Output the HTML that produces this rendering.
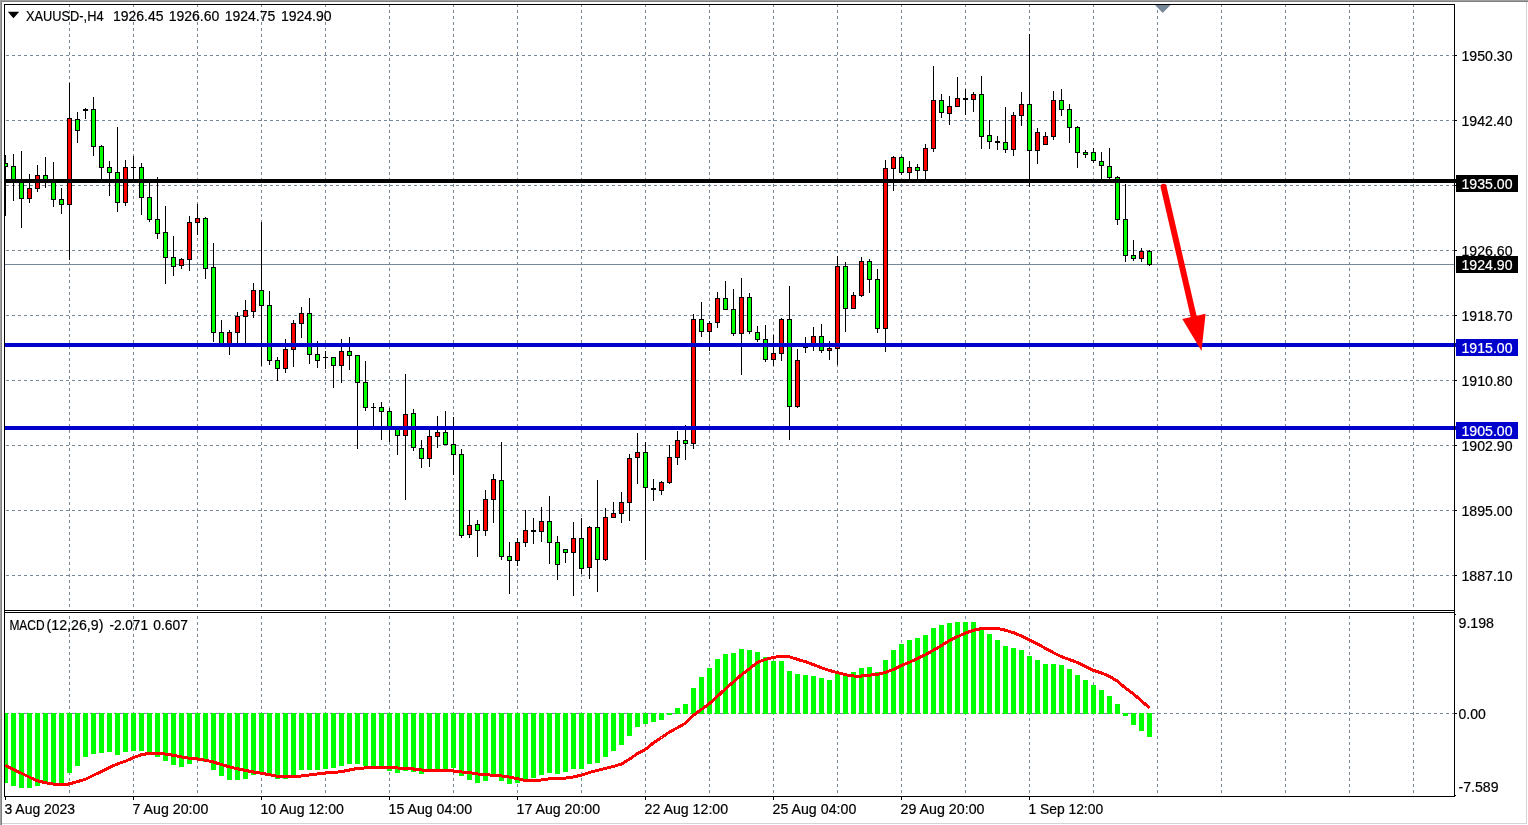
<!DOCTYPE html>
<html lang="en"><head><meta charset="utf-8"><title>XAUUSD-,H4</title>
<style>html,body{margin:0;padding:0;background:#fff;overflow:hidden}svg{display:block}text{font-family:"Liberation Sans",Arial,sans-serif;font-size:14px;fill:#000;stroke:#000;stroke-width:0.2px}.g line{stroke:#778899;stroke-width:1;stroke-dasharray:3 3}.w{fill:#fff}</style></head><body>
<svg width="1528" height="825" viewBox="0 0 1528 825">
<rect width="1528" height="825" fill="#fff"/>
<g shape-rendering="crispEdges">
<rect x="0" y="0" width="1528" height="2" fill="#a0a0a0"/>
<rect x="0" y="1" width="1528" height="1" fill="#808080"/>
<rect x="0" y="0" width="1" height="825" fill="#a0a0a0"/>
<rect x="1" y="1" width="1" height="824" fill="#808080"/>
<rect x="1526" y="2" width="1" height="822" fill="#d4d4d4"/>
<rect x="2" y="823" width="1525" height="1" fill="#d4d4d4"/>
<g class="g">
<line x1="69.5" y1="4" x2="69.5" y2="796"/>
<line x1="133.5" y1="4" x2="133.5" y2="796"/>
<line x1="197.5" y1="4" x2="197.5" y2="796"/>
<line x1="261.5" y1="4" x2="261.5" y2="796"/>
<line x1="325.5" y1="4" x2="325.5" y2="796"/>
<line x1="389.5" y1="4" x2="389.5" y2="796"/>
<line x1="453.5" y1="4" x2="453.5" y2="796"/>
<line x1="517.5" y1="4" x2="517.5" y2="796"/>
<line x1="581.5" y1="4" x2="581.5" y2="796"/>
<line x1="645.5" y1="4" x2="645.5" y2="796"/>
<line x1="709.5" y1="4" x2="709.5" y2="796"/>
<line x1="773.5" y1="4" x2="773.5" y2="796"/>
<line x1="837.5" y1="4" x2="837.5" y2="796"/>
<line x1="901.5" y1="4" x2="901.5" y2="796"/>
<line x1="965.5" y1="4" x2="965.5" y2="796"/>
<line x1="1029.5" y1="4" x2="1029.5" y2="796"/>
<line x1="1093.5" y1="4" x2="1093.5" y2="796"/>
<line x1="1157.5" y1="4" x2="1157.5" y2="796"/>
<line x1="1221.5" y1="4" x2="1221.5" y2="796"/>
<line x1="1285.5" y1="4" x2="1285.5" y2="796"/>
<line x1="1349.5" y1="4" x2="1349.5" y2="796"/>
<line x1="1413.5" y1="4" x2="1413.5" y2="796"/>
<line x1="6" y1="55.5" x2="1454" y2="55.5"/>
<line x1="6" y1="120.5" x2="1454" y2="120.5"/>
<line x1="6" y1="185.5" x2="1454" y2="185.5"/>
<line x1="6" y1="250.5" x2="1454" y2="250.5"/>
<line x1="6" y1="315.5" x2="1454" y2="315.5"/>
<line x1="6" y1="380.5" x2="1454" y2="380.5"/>
<line x1="6" y1="445.5" x2="1454" y2="445.5"/>
<line x1="6" y1="510.5" x2="1454" y2="510.5"/>
<line x1="6" y1="575.5" x2="1454" y2="575.5"/>
<line x1="6" y1="713.5" x2="1454" y2="713.5"/>
</g>
<rect x="5" y="264" width="1450" height="1" fill="#778899"/>
<rect x="5" y="155" width="1" height="61" fill="#000"/>
<rect x="3" y="163" width="5" height="4" fill="#000"/>
<rect x="4" y="164" width="3" height="2" fill="#00ff00"/>
<rect x="13" y="154" width="1" height="47" fill="#000"/>
<rect x="11" y="166" width="5" height="16" fill="#000"/>
<rect x="12" y="167" width="3" height="14" fill="#00ff00"/>
<rect x="21" y="151" width="1" height="77" fill="#000"/>
<rect x="19" y="179" width="5" height="20" fill="#000"/>
<rect x="20" y="180" width="3" height="18" fill="#00ff00"/>
<rect x="29" y="174" width="1" height="29" fill="#000"/>
<rect x="27" y="188" width="5" height="11" fill="#000"/>
<rect x="28" y="189" width="3" height="9" fill="#ff0000"/>
<rect x="37" y="165" width="1" height="27" fill="#000"/>
<rect x="35" y="175" width="5" height="14" fill="#000"/>
<rect x="36" y="176" width="3" height="12" fill="#ff0000"/>
<rect x="45" y="157" width="1" height="31" fill="#000"/>
<rect x="43" y="175" width="5" height="7" fill="#000"/>
<rect x="44" y="176" width="3" height="5" fill="#00ff00"/>
<rect x="53" y="162" width="1" height="45" fill="#000"/>
<rect x="51" y="180" width="5" height="20" fill="#000"/>
<rect x="52" y="181" width="3" height="18" fill="#00ff00"/>
<rect x="61" y="188" width="1" height="26" fill="#000"/>
<rect x="59" y="199" width="5" height="6" fill="#000"/>
<rect x="60" y="200" width="3" height="4" fill="#00ff00"/>
<rect x="69" y="83" width="1" height="177" fill="#000"/>
<rect x="67" y="118" width="5" height="87" fill="#000"/>
<rect x="68" y="119" width="3" height="85" fill="#ff0000"/>
<rect x="77" y="112" width="1" height="31" fill="#000"/>
<rect x="75" y="119" width="5" height="12" fill="#000"/>
<rect x="76" y="120" width="3" height="10" fill="#00ff00"/>
<rect x="85" y="108" width="1" height="11" fill="#000"/>
<rect x="83" y="109" width="5" height="2" fill="#000"/>
<rect x="93" y="97" width="1" height="59" fill="#000"/>
<rect x="91" y="109" width="5" height="38" fill="#000"/>
<rect x="92" y="110" width="3" height="36" fill="#00ff00"/>
<rect x="101" y="145" width="1" height="35" fill="#000"/>
<rect x="99" y="146" width="5" height="22" fill="#000"/>
<rect x="100" y="147" width="3" height="20" fill="#00ff00"/>
<rect x="109" y="161" width="1" height="35" fill="#000"/>
<rect x="107" y="167" width="5" height="6" fill="#000"/>
<rect x="108" y="168" width="3" height="4" fill="#00ff00"/>
<rect x="117" y="127" width="1" height="85" fill="#000"/>
<rect x="115" y="172" width="5" height="31" fill="#000"/>
<rect x="116" y="173" width="3" height="29" fill="#00ff00"/>
<rect x="125" y="160" width="1" height="46" fill="#000"/>
<rect x="123" y="167" width="5" height="36" fill="#000"/>
<rect x="124" y="168" width="3" height="34" fill="#ff0000"/>
<rect x="133" y="156" width="1" height="24" fill="#000"/>
<rect x="131" y="167" width="5" height="1" fill="#000"/>
<rect x="141" y="163" width="1" height="52" fill="#000"/>
<rect x="139" y="167" width="5" height="31" fill="#000"/>
<rect x="140" y="168" width="3" height="29" fill="#00ff00"/>
<rect x="149" y="182" width="1" height="40" fill="#000"/>
<rect x="147" y="197" width="5" height="23" fill="#000"/>
<rect x="148" y="198" width="3" height="21" fill="#00ff00"/>
<rect x="157" y="177" width="1" height="62" fill="#000"/>
<rect x="155" y="219" width="5" height="15" fill="#000"/>
<rect x="156" y="220" width="3" height="13" fill="#00ff00"/>
<rect x="165" y="206" width="1" height="78" fill="#000"/>
<rect x="163" y="232" width="5" height="26" fill="#000"/>
<rect x="164" y="233" width="3" height="24" fill="#00ff00"/>
<rect x="173" y="236" width="1" height="40" fill="#000"/>
<rect x="171" y="257" width="5" height="10" fill="#000"/>
<rect x="172" y="258" width="3" height="8" fill="#00ff00"/>
<rect x="181" y="258" width="1" height="11" fill="#000"/>
<rect x="179" y="259" width="5" height="7" fill="#000"/>
<rect x="180" y="260" width="3" height="5" fill="#ff0000"/>
<rect x="189" y="216" width="1" height="55" fill="#000"/>
<rect x="187" y="222" width="5" height="38" fill="#000"/>
<rect x="188" y="223" width="3" height="36" fill="#ff0000"/>
<rect x="197" y="204" width="1" height="31" fill="#000"/>
<rect x="195" y="218" width="5" height="5" fill="#000"/>
<rect x="196" y="219" width="3" height="3" fill="#ff0000"/>
<rect x="205" y="217" width="1" height="62" fill="#000"/>
<rect x="203" y="218" width="5" height="51" fill="#000"/>
<rect x="204" y="219" width="3" height="49" fill="#00ff00"/>
<rect x="213" y="243" width="1" height="99" fill="#000"/>
<rect x="211" y="267" width="5" height="66" fill="#000"/>
<rect x="212" y="268" width="3" height="64" fill="#00ff00"/>
<rect x="221" y="320" width="1" height="25" fill="#000"/>
<rect x="219" y="332" width="5" height="13" fill="#000"/>
<rect x="220" y="333" width="3" height="11" fill="#00ff00"/>
<rect x="229" y="330" width="1" height="25" fill="#000"/>
<rect x="227" y="332" width="5" height="14" fill="#000"/>
<rect x="228" y="333" width="3" height="12" fill="#ff0000"/>
<rect x="237" y="312" width="1" height="32" fill="#000"/>
<rect x="235" y="316" width="5" height="17" fill="#000"/>
<rect x="236" y="317" width="3" height="15" fill="#ff0000"/>
<rect x="245" y="300" width="1" height="44" fill="#000"/>
<rect x="243" y="310" width="5" height="7" fill="#000"/>
<rect x="244" y="311" width="3" height="5" fill="#ff0000"/>
<rect x="253" y="283" width="1" height="35" fill="#000"/>
<rect x="251" y="290" width="5" height="22" fill="#000"/>
<rect x="252" y="291" width="3" height="20" fill="#ff0000"/>
<rect x="261" y="222" width="1" height="144" fill="#000"/>
<rect x="259" y="290" width="5" height="16" fill="#000"/>
<rect x="260" y="291" width="3" height="14" fill="#00ff00"/>
<rect x="269" y="291" width="1" height="74" fill="#000"/>
<rect x="267" y="305" width="5" height="56" fill="#000"/>
<rect x="268" y="306" width="3" height="54" fill="#00ff00"/>
<rect x="277" y="357" width="1" height="24" fill="#000"/>
<rect x="275" y="360" width="5" height="9" fill="#000"/>
<rect x="276" y="361" width="3" height="7" fill="#00ff00"/>
<rect x="285" y="339" width="1" height="34" fill="#000"/>
<rect x="283" y="349" width="5" height="20" fill="#000"/>
<rect x="284" y="350" width="3" height="18" fill="#ff0000"/>
<rect x="293" y="320" width="1" height="47" fill="#000"/>
<rect x="291" y="323" width="5" height="27" fill="#000"/>
<rect x="292" y="324" width="3" height="25" fill="#ff0000"/>
<rect x="301" y="307" width="1" height="31" fill="#000"/>
<rect x="299" y="313" width="5" height="11" fill="#000"/>
<rect x="300" y="314" width="3" height="9" fill="#ff0000"/>
<rect x="309" y="298" width="1" height="66" fill="#000"/>
<rect x="307" y="313" width="5" height="42" fill="#000"/>
<rect x="308" y="314" width="3" height="40" fill="#00ff00"/>
<rect x="317" y="341" width="1" height="27" fill="#000"/>
<rect x="315" y="354" width="5" height="7" fill="#000"/>
<rect x="316" y="355" width="3" height="5" fill="#00ff00"/>
<rect x="325" y="351" width="1" height="18" fill="#000"/>
<rect x="323" y="357" width="5" height="1" fill="#000"/>
<rect x="333" y="357" width="1" height="31" fill="#000"/>
<rect x="331" y="357" width="5" height="9" fill="#000"/>
<rect x="332" y="358" width="3" height="7" fill="#00ff00"/>
<rect x="341" y="339" width="1" height="44" fill="#000"/>
<rect x="339" y="351" width="5" height="15" fill="#000"/>
<rect x="340" y="352" width="3" height="13" fill="#ff0000"/>
<rect x="349" y="337" width="1" height="33" fill="#000"/>
<rect x="347" y="351" width="5" height="5" fill="#000"/>
<rect x="348" y="352" width="3" height="3" fill="#00ff00"/>
<rect x="357" y="355" width="1" height="94" fill="#000"/>
<rect x="355" y="355" width="5" height="28" fill="#000"/>
<rect x="356" y="356" width="3" height="26" fill="#00ff00"/>
<rect x="365" y="361" width="1" height="50" fill="#000"/>
<rect x="363" y="382" width="5" height="26" fill="#000"/>
<rect x="364" y="383" width="3" height="24" fill="#00ff00"/>
<rect x="373" y="403" width="1" height="25" fill="#000"/>
<rect x="371" y="407" width="5" height="1" fill="#000"/>
<rect x="381" y="402" width="1" height="38" fill="#000"/>
<rect x="379" y="407" width="5" height="5" fill="#000"/>
<rect x="380" y="408" width="3" height="3" fill="#00ff00"/>
<rect x="389" y="408" width="1" height="34" fill="#000"/>
<rect x="387" y="411" width="5" height="17" fill="#000"/>
<rect x="388" y="412" width="3" height="15" fill="#00ff00"/>
<rect x="397" y="427" width="1" height="28" fill="#000"/>
<rect x="395" y="427" width="5" height="9" fill="#000"/>
<rect x="396" y="428" width="3" height="7" fill="#00ff00"/>
<rect x="405" y="374" width="1" height="126" fill="#000"/>
<rect x="403" y="414" width="5" height="22" fill="#000"/>
<rect x="404" y="415" width="3" height="20" fill="#ff0000"/>
<rect x="413" y="409" width="1" height="42" fill="#000"/>
<rect x="411" y="413" width="5" height="35" fill="#000"/>
<rect x="412" y="414" width="3" height="33" fill="#00ff00"/>
<rect x="421" y="440" width="1" height="28" fill="#000"/>
<rect x="419" y="448" width="5" height="11" fill="#000"/>
<rect x="420" y="449" width="3" height="9" fill="#00ff00"/>
<rect x="429" y="428" width="1" height="39" fill="#000"/>
<rect x="427" y="436" width="5" height="23" fill="#000"/>
<rect x="428" y="437" width="3" height="21" fill="#ff0000"/>
<rect x="437" y="416" width="1" height="32" fill="#000"/>
<rect x="435" y="432" width="5" height="5" fill="#000"/>
<rect x="436" y="433" width="3" height="3" fill="#ff0000"/>
<rect x="445" y="411" width="1" height="34" fill="#000"/>
<rect x="443" y="432" width="5" height="13" fill="#000"/>
<rect x="444" y="433" width="3" height="11" fill="#00ff00"/>
<rect x="453" y="417" width="1" height="58" fill="#000"/>
<rect x="451" y="444" width="5" height="11" fill="#000"/>
<rect x="452" y="445" width="3" height="9" fill="#00ff00"/>
<rect x="461" y="449" width="1" height="89" fill="#000"/>
<rect x="459" y="454" width="5" height="82" fill="#000"/>
<rect x="460" y="455" width="3" height="80" fill="#00ff00"/>
<rect x="469" y="510" width="1" height="28" fill="#000"/>
<rect x="467" y="525" width="5" height="10" fill="#000"/>
<rect x="468" y="526" width="3" height="8" fill="#ff0000"/>
<rect x="477" y="520" width="1" height="37" fill="#000"/>
<rect x="475" y="524" width="5" height="7" fill="#000"/>
<rect x="476" y="525" width="3" height="5" fill="#00ff00"/>
<rect x="485" y="490" width="1" height="46" fill="#000"/>
<rect x="483" y="499" width="5" height="32" fill="#000"/>
<rect x="484" y="500" width="3" height="30" fill="#ff0000"/>
<rect x="493" y="474" width="1" height="49" fill="#000"/>
<rect x="491" y="479" width="5" height="21" fill="#000"/>
<rect x="492" y="480" width="3" height="19" fill="#ff0000"/>
<rect x="501" y="442" width="1" height="118" fill="#000"/>
<rect x="499" y="480" width="5" height="77" fill="#000"/>
<rect x="500" y="481" width="3" height="75" fill="#00ff00"/>
<rect x="509" y="542" width="1" height="52" fill="#000"/>
<rect x="507" y="556" width="5" height="5" fill="#000"/>
<rect x="508" y="557" width="3" height="3" fill="#00ff00"/>
<rect x="517" y="538" width="1" height="28" fill="#000"/>
<rect x="515" y="542" width="5" height="19" fill="#000"/>
<rect x="516" y="543" width="3" height="17" fill="#ff0000"/>
<rect x="525" y="510" width="1" height="37" fill="#000"/>
<rect x="523" y="530" width="5" height="13" fill="#000"/>
<rect x="524" y="531" width="3" height="11" fill="#ff0000"/>
<rect x="533" y="518" width="1" height="26" fill="#000"/>
<rect x="531" y="530" width="5" height="2" fill="#000"/>
<rect x="541" y="507" width="1" height="35" fill="#000"/>
<rect x="539" y="521" width="5" height="11" fill="#000"/>
<rect x="540" y="522" width="3" height="9" fill="#ff0000"/>
<rect x="549" y="496" width="1" height="68" fill="#000"/>
<rect x="547" y="521" width="5" height="22" fill="#000"/>
<rect x="548" y="522" width="3" height="20" fill="#00ff00"/>
<rect x="557" y="536" width="1" height="44" fill="#000"/>
<rect x="555" y="542" width="5" height="23" fill="#000"/>
<rect x="556" y="543" width="3" height="21" fill="#00ff00"/>
<rect x="565" y="549" width="1" height="14" fill="#000"/>
<rect x="563" y="549" width="5" height="4" fill="#000"/>
<rect x="564" y="550" width="3" height="2" fill="#00ff00"/>
<rect x="573" y="522" width="1" height="74" fill="#000"/>
<rect x="571" y="538" width="5" height="15" fill="#000"/>
<rect x="572" y="539" width="3" height="13" fill="#ff0000"/>
<rect x="581" y="518" width="1" height="56" fill="#000"/>
<rect x="579" y="538" width="5" height="31" fill="#000"/>
<rect x="580" y="539" width="3" height="29" fill="#00ff00"/>
<rect x="589" y="526" width="1" height="53" fill="#000"/>
<rect x="587" y="527" width="5" height="41" fill="#000"/>
<rect x="588" y="528" width="3" height="39" fill="#ff0000"/>
<rect x="597" y="480" width="1" height="112" fill="#000"/>
<rect x="595" y="527" width="5" height="33" fill="#000"/>
<rect x="596" y="528" width="3" height="31" fill="#00ff00"/>
<rect x="605" y="508" width="1" height="53" fill="#000"/>
<rect x="603" y="517" width="5" height="43" fill="#000"/>
<rect x="604" y="518" width="3" height="41" fill="#ff0000"/>
<rect x="613" y="502" width="1" height="16" fill="#000"/>
<rect x="611" y="513" width="5" height="5" fill="#000"/>
<rect x="612" y="514" width="3" height="3" fill="#ff0000"/>
<rect x="621" y="492" width="1" height="31" fill="#000"/>
<rect x="619" y="502" width="5" height="12" fill="#000"/>
<rect x="620" y="503" width="3" height="10" fill="#ff0000"/>
<rect x="629" y="454" width="1" height="67" fill="#000"/>
<rect x="627" y="458" width="5" height="45" fill="#000"/>
<rect x="628" y="459" width="3" height="43" fill="#ff0000"/>
<rect x="637" y="433" width="1" height="51" fill="#000"/>
<rect x="635" y="452" width="5" height="6" fill="#000"/>
<rect x="636" y="453" width="3" height="4" fill="#ff0000"/>
<rect x="645" y="442" width="1" height="118" fill="#000"/>
<rect x="643" y="452" width="5" height="36" fill="#000"/>
<rect x="644" y="453" width="3" height="34" fill="#00ff00"/>
<rect x="653" y="479" width="1" height="22" fill="#000"/>
<rect x="651" y="488" width="5" height="2" fill="#000"/>
<rect x="661" y="481" width="1" height="14" fill="#000"/>
<rect x="659" y="482" width="5" height="9" fill="#000"/>
<rect x="660" y="483" width="3" height="7" fill="#ff0000"/>
<rect x="669" y="445" width="1" height="39" fill="#000"/>
<rect x="667" y="457" width="5" height="26" fill="#000"/>
<rect x="668" y="458" width="3" height="24" fill="#ff0000"/>
<rect x="677" y="431" width="1" height="34" fill="#000"/>
<rect x="675" y="440" width="5" height="18" fill="#000"/>
<rect x="676" y="441" width="3" height="16" fill="#ff0000"/>
<rect x="685" y="425" width="1" height="35" fill="#000"/>
<rect x="683" y="440" width="5" height="4" fill="#000"/>
<rect x="684" y="441" width="3" height="2" fill="#00ff00"/>
<rect x="693" y="314" width="1" height="135" fill="#000"/>
<rect x="691" y="319" width="5" height="125" fill="#000"/>
<rect x="692" y="320" width="3" height="123" fill="#ff0000"/>
<rect x="701" y="302" width="1" height="35" fill="#000"/>
<rect x="699" y="319" width="5" height="13" fill="#000"/>
<rect x="700" y="320" width="3" height="11" fill="#00ff00"/>
<rect x="709" y="321" width="1" height="30" fill="#000"/>
<rect x="707" y="323" width="5" height="9" fill="#000"/>
<rect x="708" y="324" width="3" height="7" fill="#ff0000"/>
<rect x="717" y="292" width="1" height="36" fill="#000"/>
<rect x="715" y="298" width="5" height="25" fill="#000"/>
<rect x="716" y="299" width="3" height="23" fill="#ff0000"/>
<rect x="725" y="281" width="1" height="29" fill="#000"/>
<rect x="723" y="298" width="5" height="12" fill="#000"/>
<rect x="724" y="299" width="3" height="10" fill="#00ff00"/>
<rect x="733" y="289" width="1" height="47" fill="#000"/>
<rect x="731" y="309" width="5" height="25" fill="#000"/>
<rect x="732" y="310" width="3" height="23" fill="#00ff00"/>
<rect x="741" y="278" width="1" height="97" fill="#000"/>
<rect x="739" y="297" width="5" height="37" fill="#000"/>
<rect x="740" y="298" width="3" height="35" fill="#ff0000"/>
<rect x="749" y="293" width="1" height="41" fill="#000"/>
<rect x="747" y="297" width="5" height="35" fill="#000"/>
<rect x="748" y="298" width="3" height="33" fill="#00ff00"/>
<rect x="757" y="326" width="1" height="16" fill="#000"/>
<rect x="755" y="332" width="5" height="8" fill="#000"/>
<rect x="756" y="333" width="3" height="6" fill="#00ff00"/>
<rect x="765" y="325" width="1" height="37" fill="#000"/>
<rect x="763" y="339" width="5" height="21" fill="#000"/>
<rect x="764" y="340" width="3" height="19" fill="#00ff00"/>
<rect x="773" y="335" width="1" height="31" fill="#000"/>
<rect x="771" y="353" width="5" height="7" fill="#000"/>
<rect x="772" y="354" width="3" height="5" fill="#ff0000"/>
<rect x="781" y="318" width="1" height="43" fill="#000"/>
<rect x="779" y="319" width="5" height="35" fill="#000"/>
<rect x="780" y="320" width="3" height="33" fill="#ff0000"/>
<rect x="789" y="286" width="1" height="154" fill="#000"/>
<rect x="787" y="319" width="5" height="88" fill="#000"/>
<rect x="788" y="320" width="3" height="86" fill="#00ff00"/>
<rect x="797" y="349" width="1" height="59" fill="#000"/>
<rect x="795" y="360" width="5" height="47" fill="#000"/>
<rect x="796" y="361" width="3" height="45" fill="#ff0000"/>
<rect x="805" y="337" width="1" height="16" fill="#000"/>
<rect x="803" y="347" width="5" height="1" fill="#000"/>
<rect x="813" y="327" width="1" height="24" fill="#000"/>
<rect x="811" y="336" width="5" height="10" fill="#000"/>
<rect x="812" y="337" width="3" height="8" fill="#ff0000"/>
<rect x="821" y="324" width="1" height="29" fill="#000"/>
<rect x="819" y="336" width="5" height="15" fill="#000"/>
<rect x="820" y="337" width="3" height="13" fill="#00ff00"/>
<rect x="829" y="341" width="1" height="19" fill="#000"/>
<rect x="827" y="348" width="5" height="3" fill="#000"/>
<rect x="828" y="349" width="3" height="1" fill="#ff0000"/>
<rect x="837" y="256" width="1" height="109" fill="#000"/>
<rect x="835" y="266" width="5" height="83" fill="#000"/>
<rect x="836" y="267" width="3" height="81" fill="#ff0000"/>
<rect x="845" y="262" width="1" height="70" fill="#000"/>
<rect x="843" y="266" width="5" height="43" fill="#000"/>
<rect x="844" y="267" width="3" height="41" fill="#00ff00"/>
<rect x="853" y="292" width="1" height="17" fill="#000"/>
<rect x="851" y="295" width="5" height="14" fill="#000"/>
<rect x="852" y="296" width="3" height="12" fill="#ff0000"/>
<rect x="861" y="257" width="1" height="40" fill="#000"/>
<rect x="859" y="261" width="5" height="35" fill="#000"/>
<rect x="860" y="262" width="3" height="33" fill="#ff0000"/>
<rect x="869" y="259" width="1" height="34" fill="#000"/>
<rect x="867" y="261" width="5" height="19" fill="#000"/>
<rect x="868" y="262" width="3" height="17" fill="#00ff00"/>
<rect x="877" y="269" width="1" height="64" fill="#000"/>
<rect x="875" y="279" width="5" height="50" fill="#000"/>
<rect x="876" y="280" width="3" height="48" fill="#00ff00"/>
<rect x="885" y="160" width="1" height="192" fill="#000"/>
<rect x="883" y="168" width="5" height="161" fill="#000"/>
<rect x="884" y="169" width="3" height="159" fill="#ff0000"/>
<rect x="893" y="156" width="1" height="35" fill="#000"/>
<rect x="891" y="157" width="5" height="12" fill="#000"/>
<rect x="892" y="158" width="3" height="10" fill="#ff0000"/>
<rect x="901" y="156" width="1" height="19" fill="#000"/>
<rect x="899" y="157" width="5" height="16" fill="#000"/>
<rect x="900" y="158" width="3" height="14" fill="#00ff00"/>
<rect x="909" y="161" width="1" height="19" fill="#000"/>
<rect x="907" y="167" width="5" height="6" fill="#000"/>
<rect x="908" y="168" width="3" height="4" fill="#ff0000"/>
<rect x="917" y="164" width="1" height="16" fill="#000"/>
<rect x="915" y="167" width="5" height="4" fill="#000"/>
<rect x="916" y="168" width="3" height="2" fill="#00ff00"/>
<rect x="925" y="144" width="1" height="36" fill="#000"/>
<rect x="923" y="148" width="5" height="23" fill="#000"/>
<rect x="924" y="149" width="3" height="21" fill="#ff0000"/>
<rect x="933" y="66" width="1" height="86" fill="#000"/>
<rect x="931" y="100" width="5" height="49" fill="#000"/>
<rect x="932" y="101" width="3" height="47" fill="#ff0000"/>
<rect x="941" y="94" width="1" height="24" fill="#000"/>
<rect x="939" y="100" width="5" height="13" fill="#000"/>
<rect x="940" y="101" width="3" height="11" fill="#00ff00"/>
<rect x="949" y="96" width="1" height="29" fill="#000"/>
<rect x="947" y="106" width="5" height="8" fill="#000"/>
<rect x="948" y="107" width="3" height="6" fill="#ff0000"/>
<rect x="957" y="77" width="1" height="30" fill="#000"/>
<rect x="955" y="98" width="5" height="9" fill="#000"/>
<rect x="956" y="99" width="3" height="7" fill="#ff0000"/>
<rect x="965" y="89" width="1" height="26" fill="#000"/>
<rect x="963" y="98" width="5" height="2" fill="#000"/>
<rect x="973" y="92" width="1" height="20" fill="#000"/>
<rect x="971" y="94" width="5" height="6" fill="#000"/>
<rect x="972" y="95" width="3" height="4" fill="#ff0000"/>
<rect x="981" y="76" width="1" height="73" fill="#000"/>
<rect x="979" y="94" width="5" height="43" fill="#000"/>
<rect x="980" y="95" width="3" height="41" fill="#00ff00"/>
<rect x="989" y="120" width="1" height="29" fill="#000"/>
<rect x="987" y="135" width="5" height="7" fill="#000"/>
<rect x="988" y="136" width="3" height="5" fill="#00ff00"/>
<rect x="997" y="136" width="1" height="14" fill="#000"/>
<rect x="995" y="141" width="5" height="2" fill="#000"/>
<rect x="1005" y="107" width="1" height="46" fill="#000"/>
<rect x="1003" y="142" width="5" height="8" fill="#000"/>
<rect x="1004" y="143" width="3" height="6" fill="#00ff00"/>
<rect x="1013" y="112" width="1" height="44" fill="#000"/>
<rect x="1011" y="115" width="5" height="35" fill="#000"/>
<rect x="1012" y="116" width="3" height="33" fill="#ff0000"/>
<rect x="1021" y="92" width="1" height="34" fill="#000"/>
<rect x="1019" y="104" width="5" height="12" fill="#000"/>
<rect x="1020" y="105" width="3" height="10" fill="#ff0000"/>
<rect x="1029" y="34" width="1" height="153" fill="#000"/>
<rect x="1027" y="104" width="5" height="47" fill="#000"/>
<rect x="1028" y="105" width="3" height="45" fill="#00ff00"/>
<rect x="1037" y="128" width="1" height="36" fill="#000"/>
<rect x="1035" y="132" width="5" height="19" fill="#000"/>
<rect x="1036" y="133" width="3" height="17" fill="#ff0000"/>
<rect x="1045" y="132" width="1" height="13" fill="#000"/>
<rect x="1043" y="136" width="5" height="9" fill="#000"/>
<rect x="1044" y="137" width="3" height="7" fill="#ff0000"/>
<rect x="1053" y="91" width="1" height="49" fill="#000"/>
<rect x="1051" y="100" width="5" height="37" fill="#000"/>
<rect x="1052" y="101" width="3" height="35" fill="#ff0000"/>
<rect x="1061" y="89" width="1" height="27" fill="#000"/>
<rect x="1059" y="100" width="5" height="10" fill="#000"/>
<rect x="1060" y="101" width="3" height="8" fill="#00ff00"/>
<rect x="1069" y="104" width="1" height="39" fill="#000"/>
<rect x="1067" y="109" width="5" height="19" fill="#000"/>
<rect x="1068" y="110" width="3" height="17" fill="#00ff00"/>
<rect x="1077" y="126" width="1" height="42" fill="#000"/>
<rect x="1075" y="127" width="5" height="26" fill="#000"/>
<rect x="1076" y="128" width="3" height="24" fill="#00ff00"/>
<rect x="1085" y="150" width="1" height="8" fill="#000"/>
<rect x="1083" y="152" width="5" height="3" fill="#000"/>
<rect x="1084" y="153" width="3" height="1" fill="#00ff00"/>
<rect x="1093" y="148" width="1" height="15" fill="#000"/>
<rect x="1091" y="152" width="5" height="9" fill="#000"/>
<rect x="1092" y="153" width="3" height="7" fill="#00ff00"/>
<rect x="1101" y="152" width="1" height="28" fill="#000"/>
<rect x="1099" y="161" width="5" height="5" fill="#000"/>
<rect x="1100" y="162" width="3" height="3" fill="#00ff00"/>
<rect x="1109" y="148" width="1" height="32" fill="#000"/>
<rect x="1107" y="166" width="5" height="12" fill="#000"/>
<rect x="1108" y="167" width="3" height="10" fill="#00ff00"/>
<rect x="1117" y="176" width="1" height="49" fill="#000"/>
<rect x="1115" y="177" width="5" height="43" fill="#000"/>
<rect x="1116" y="178" width="3" height="41" fill="#00ff00"/>
<rect x="1125" y="184" width="1" height="78" fill="#000"/>
<rect x="1123" y="219" width="5" height="37" fill="#000"/>
<rect x="1124" y="220" width="3" height="35" fill="#00ff00"/>
<rect x="1133" y="240" width="1" height="21" fill="#000"/>
<rect x="1131" y="255" width="5" height="4" fill="#000"/>
<rect x="1132" y="256" width="3" height="2" fill="#00ff00"/>
<rect x="1141" y="248" width="1" height="14" fill="#000"/>
<rect x="1139" y="251" width="5" height="8" fill="#000"/>
<rect x="1140" y="252" width="3" height="6" fill="#ff0000"/>
<rect x="1149" y="250" width="1" height="16" fill="#000"/>
<rect x="1147" y="251" width="5" height="14" fill="#000"/>
<rect x="1148" y="252" width="3" height="12" fill="#00ff00"/>
<rect x="5" y="179" width="1452" height="4" fill="#000"/>
<rect x="5" y="343" width="1452" height="4" fill="#0000cd"/>
<rect x="5" y="426" width="1452" height="4" fill="#0000cd"/>
<rect x="3" y="713" width="5" height="70" fill="#00ff00"/>
<rect x="11" y="713" width="5" height="73" fill="#00ff00"/>
<rect x="19" y="713" width="5" height="75" fill="#00ff00"/>
<rect x="27" y="713" width="5" height="75" fill="#00ff00"/>
<rect x="35" y="713" width="5" height="73" fill="#00ff00"/>
<rect x="43" y="713" width="5" height="71" fill="#00ff00"/>
<rect x="51" y="713" width="5" height="71" fill="#00ff00"/>
<rect x="59" y="713" width="5" height="72" fill="#00ff00"/>
<rect x="67" y="713" width="5" height="60" fill="#00ff00"/>
<rect x="75" y="713" width="5" height="53" fill="#00ff00"/>
<rect x="83" y="713" width="5" height="44" fill="#00ff00"/>
<rect x="91" y="713" width="5" height="41" fill="#00ff00"/>
<rect x="99" y="713" width="5" height="40" fill="#00ff00"/>
<rect x="107" y="713" width="5" height="39" fill="#00ff00"/>
<rect x="115" y="713" width="5" height="42" fill="#00ff00"/>
<rect x="123" y="713" width="5" height="39" fill="#00ff00"/>
<rect x="131" y="713" width="5" height="38" fill="#00ff00"/>
<rect x="139" y="713" width="5" height="38" fill="#00ff00"/>
<rect x="147" y="713" width="5" height="39" fill="#00ff00"/>
<rect x="155" y="713" width="5" height="44" fill="#00ff00"/>
<rect x="163" y="713" width="5" height="48" fill="#00ff00"/>
<rect x="171" y="713" width="5" height="52" fill="#00ff00"/>
<rect x="179" y="713" width="5" height="54" fill="#00ff00"/>
<rect x="187" y="713" width="5" height="51" fill="#00ff00"/>
<rect x="195" y="713" width="5" height="47" fill="#00ff00"/>
<rect x="203" y="713" width="5" height="49" fill="#00ff00"/>
<rect x="211" y="713" width="5" height="57" fill="#00ff00"/>
<rect x="219" y="713" width="5" height="63" fill="#00ff00"/>
<rect x="227" y="713" width="5" height="67" fill="#00ff00"/>
<rect x="235" y="713" width="5" height="67" fill="#00ff00"/>
<rect x="243" y="713" width="5" height="66" fill="#00ff00"/>
<rect x="251" y="713" width="5" height="62" fill="#00ff00"/>
<rect x="259" y="713" width="5" height="61" fill="#00ff00"/>
<rect x="267" y="713" width="5" height="62" fill="#00ff00"/>
<rect x="275" y="713" width="5" height="66" fill="#00ff00"/>
<rect x="283" y="713" width="5" height="66" fill="#00ff00"/>
<rect x="291" y="713" width="5" height="64" fill="#00ff00"/>
<rect x="299" y="713" width="5" height="57" fill="#00ff00"/>
<rect x="307" y="713" width="5" height="57" fill="#00ff00"/>
<rect x="315" y="713" width="5" height="57" fill="#00ff00"/>
<rect x="323" y="713" width="5" height="56" fill="#00ff00"/>
<rect x="331" y="713" width="5" height="55" fill="#00ff00"/>
<rect x="339" y="713" width="5" height="53" fill="#00ff00"/>
<rect x="347" y="713" width="5" height="51" fill="#00ff00"/>
<rect x="355" y="713" width="5" height="51" fill="#00ff00"/>
<rect x="363" y="713" width="5" height="53" fill="#00ff00"/>
<rect x="371" y="713" width="5" height="53" fill="#00ff00"/>
<rect x="379" y="713" width="5" height="56" fill="#00ff00"/>
<rect x="387" y="713" width="5" height="58" fill="#00ff00"/>
<rect x="395" y="713" width="5" height="60" fill="#00ff00"/>
<rect x="403" y="713" width="5" height="58" fill="#00ff00"/>
<rect x="411" y="713" width="5" height="59" fill="#00ff00"/>
<rect x="419" y="713" width="5" height="61" fill="#00ff00"/>
<rect x="427" y="713" width="5" height="57" fill="#00ff00"/>
<rect x="435" y="713" width="5" height="57" fill="#00ff00"/>
<rect x="443" y="713" width="5" height="57" fill="#00ff00"/>
<rect x="451" y="713" width="5" height="55" fill="#00ff00"/>
<rect x="459" y="713" width="5" height="63" fill="#00ff00"/>
<rect x="467" y="713" width="5" height="67" fill="#00ff00"/>
<rect x="475" y="713" width="5" height="70" fill="#00ff00"/>
<rect x="483" y="713" width="5" height="68" fill="#00ff00"/>
<rect x="491" y="713" width="5" height="64" fill="#00ff00"/>
<rect x="499" y="713" width="5" height="68" fill="#00ff00"/>
<rect x="507" y="713" width="5" height="71" fill="#00ff00"/>
<rect x="515" y="713" width="5" height="70" fill="#00ff00"/>
<rect x="523" y="713" width="5" height="68" fill="#00ff00"/>
<rect x="531" y="713" width="5" height="65" fill="#00ff00"/>
<rect x="539" y="713" width="5" height="62" fill="#00ff00"/>
<rect x="547" y="713" width="5" height="60" fill="#00ff00"/>
<rect x="555" y="713" width="5" height="61" fill="#00ff00"/>
<rect x="563" y="713" width="5" height="59" fill="#00ff00"/>
<rect x="571" y="713" width="5" height="56" fill="#00ff00"/>
<rect x="579" y="713" width="5" height="56" fill="#00ff00"/>
<rect x="587" y="713" width="5" height="51" fill="#00ff00"/>
<rect x="595" y="713" width="5" height="50" fill="#00ff00"/>
<rect x="603" y="713" width="5" height="44" fill="#00ff00"/>
<rect x="611" y="713" width="5" height="38" fill="#00ff00"/>
<rect x="619" y="713" width="5" height="32" fill="#00ff00"/>
<rect x="627" y="713" width="5" height="23" fill="#00ff00"/>
<rect x="635" y="713" width="5" height="14" fill="#00ff00"/>
<rect x="643" y="713" width="5" height="11" fill="#00ff00"/>
<rect x="651" y="713" width="5" height="9" fill="#00ff00"/>
<rect x="659" y="713" width="5" height="7" fill="#00ff00"/>
<rect x="667" y="713" width="5" height="2" fill="#00ff00"/>
<rect x="675" y="708" width="5" height="6" fill="#00ff00"/>
<rect x="683" y="704" width="5" height="10" fill="#00ff00"/>
<rect x="691" y="688" width="5" height="26" fill="#00ff00"/>
<rect x="699" y="677" width="5" height="37" fill="#00ff00"/>
<rect x="707" y="668" width="5" height="46" fill="#00ff00"/>
<rect x="715" y="659" width="5" height="55" fill="#00ff00"/>
<rect x="723" y="654" width="5" height="60" fill="#00ff00"/>
<rect x="731" y="653" width="5" height="61" fill="#00ff00"/>
<rect x="739" y="649" width="5" height="65" fill="#00ff00"/>
<rect x="747" y="650" width="5" height="64" fill="#00ff00"/>
<rect x="755" y="652" width="5" height="62" fill="#00ff00"/>
<rect x="763" y="657" width="5" height="57" fill="#00ff00"/>
<rect x="771" y="661" width="5" height="53" fill="#00ff00"/>
<rect x="779" y="661" width="5" height="53" fill="#00ff00"/>
<rect x="787" y="671" width="5" height="43" fill="#00ff00"/>
<rect x="795" y="674" width="5" height="40" fill="#00ff00"/>
<rect x="803" y="675" width="5" height="39" fill="#00ff00"/>
<rect x="811" y="676" width="5" height="38" fill="#00ff00"/>
<rect x="819" y="678" width="5" height="36" fill="#00ff00"/>
<rect x="827" y="680" width="5" height="34" fill="#00ff00"/>
<rect x="835" y="672" width="5" height="42" fill="#00ff00"/>
<rect x="843" y="674" width="5" height="40" fill="#00ff00"/>
<rect x="851" y="672" width="5" height="42" fill="#00ff00"/>
<rect x="859" y="668" width="5" height="46" fill="#00ff00"/>
<rect x="867" y="667" width="5" height="47" fill="#00ff00"/>
<rect x="875" y="672" width="5" height="42" fill="#00ff00"/>
<rect x="883" y="660" width="5" height="54" fill="#00ff00"/>
<rect x="891" y="650" width="5" height="64" fill="#00ff00"/>
<rect x="899" y="644" width="5" height="70" fill="#00ff00"/>
<rect x="907" y="640" width="5" height="74" fill="#00ff00"/>
<rect x="915" y="638" width="5" height="76" fill="#00ff00"/>
<rect x="923" y="635" width="5" height="79" fill="#00ff00"/>
<rect x="931" y="628" width="5" height="86" fill="#00ff00"/>
<rect x="939" y="625" width="5" height="89" fill="#00ff00"/>
<rect x="947" y="623" width="5" height="91" fill="#00ff00"/>
<rect x="955" y="622" width="5" height="92" fill="#00ff00"/>
<rect x="963" y="622" width="5" height="92" fill="#00ff00"/>
<rect x="971" y="622" width="5" height="92" fill="#00ff00"/>
<rect x="979" y="629" width="5" height="85" fill="#00ff00"/>
<rect x="987" y="634" width="5" height="80" fill="#00ff00"/>
<rect x="995" y="640" width="5" height="74" fill="#00ff00"/>
<rect x="1003" y="646" width="5" height="68" fill="#00ff00"/>
<rect x="1011" y="648" width="5" height="66" fill="#00ff00"/>
<rect x="1019" y="650" width="5" height="64" fill="#00ff00"/>
<rect x="1027" y="656" width="5" height="58" fill="#00ff00"/>
<rect x="1035" y="660" width="5" height="54" fill="#00ff00"/>
<rect x="1043" y="664" width="5" height="50" fill="#00ff00"/>
<rect x="1051" y="664" width="5" height="50" fill="#00ff00"/>
<rect x="1059" y="665" width="5" height="49" fill="#00ff00"/>
<rect x="1067" y="669" width="5" height="45" fill="#00ff00"/>
<rect x="1075" y="675" width="5" height="39" fill="#00ff00"/>
<rect x="1083" y="680" width="5" height="34" fill="#00ff00"/>
<rect x="1091" y="685" width="5" height="29" fill="#00ff00"/>
<rect x="1099" y="690" width="5" height="24" fill="#00ff00"/>
<rect x="1107" y="696" width="5" height="18" fill="#00ff00"/>
<rect x="1115" y="704" width="5" height="10" fill="#00ff00"/>
<rect x="1123" y="713" width="5" height="3" fill="#00ff00"/>
<rect x="1131" y="713" width="5" height="12" fill="#00ff00"/>
<rect x="1139" y="713" width="5" height="18" fill="#00ff00"/>
<rect x="1147" y="713" width="5" height="24" fill="#00ff00"/>
</g>
<polyline points="5.5,765.5 13.5,769.4 21.5,773.3 29.5,777.3 37.5,780.8 45.5,782.7 53.5,784.1 61.5,784.7 69.5,783.9 77.5,781.6 85.5,779.2 93.5,775.3 101.5,771.4 109.5,767.5 117.5,763.9 125.5,761.2 133.5,757.6 141.5,754.7 149.5,753.3 157.5,753.3 165.5,754.1 173.5,755.3 181.5,756.9 189.5,758.2 197.5,759.0 205.5,760.2 213.5,762.0 221.5,764.5 229.5,766.9 237.5,768.8 245.5,770.4 253.5,772.0 261.5,773.3 269.5,774.7 277.5,776.3 285.5,776.7 293.5,776.9 301.5,775.9 309.5,774.9 317.5,773.9 325.5,773.0 333.5,772.6 341.5,771.6 349.5,770.0 357.5,768.4 365.5,767.9 373.5,767.1 381.5,767.1 389.5,767.3 397.5,768.0 405.5,768.2 413.5,769.0 421.5,770.0 429.5,770.8 437.5,770.8 445.5,770.8 453.5,771.0 461.5,772.0 469.5,772.6 477.5,773.9 485.5,774.9 493.5,775.1 501.5,775.9 509.5,777.1 517.5,778.7 525.5,780.6 533.5,780.6 541.5,780.0 549.5,778.8 557.5,778.3 565.5,778.1 573.5,776.9 581.5,775.1 589.5,772.5 597.5,770.3 605.5,768.3 613.5,766.4 621.5,764.0 629.5,759.1 637.5,753.6 645.5,749.3 653.5,742.8 661.5,737.5 669.5,732.0 677.5,727.7 685.5,723.2 693.5,715.3 701.5,709.4 709.5,703.5 717.5,696.3 725.5,688.8 733.5,681.9 741.5,674.7 749.5,668.8 757.5,662.3 765.5,659.4 773.5,657.4 781.5,656.0 789.5,656.8 797.5,659.4 805.5,661.7 813.5,664.7 821.5,667.8 829.5,670.5 837.5,672.7 845.5,674.7 853.5,676.0 861.5,676.0 869.5,675.2 877.5,674.3 885.5,672.4 893.5,669.4 901.5,665.5 909.5,662.2 917.5,658.6 925.5,654.7 933.5,650.2 941.5,645.5 949.5,640.6 957.5,636.6 965.5,633.1 973.5,630.2 981.5,628.6 989.5,628.4 997.5,628.4 1005.5,630.2 1013.5,632.7 1021.5,636.0 1029.5,640.0 1037.5,643.9 1045.5,648.4 1053.5,652.7 1061.5,656.7 1069.5,659.6 1077.5,662.6 1085.5,666.5 1093.5,670.4 1101.5,673.0 1109.5,676.3 1117.5,681.2 1125.5,688.1 1133.5,694.0 1141.5,700.8 1149.5,708.1" fill="none" stroke="#ff0000" stroke-width="3" stroke-linejoin="bevel" shape-rendering="crispEdges"/>
<line x1="1163.6" y1="186.7" x2="1194" y2="318" stroke="#ff0000" stroke-width="6" stroke-linecap="round"/>
<polygon points="1182.3,319.1 1205.6,313.8 1201.5,351.1" fill="#ff0000"/>
<g shape-rendering="crispEdges">
<rect class="w" x="2" y="2" width="2" height="821"/>
<rect class="w" x="1455" y="2" width="71" height="821"/>
<rect class="w" x="2" y="797" width="1524" height="26"/>
<rect class="w" x="2" y="2" width="1524" height="2"/>
<rect class="w" x="4" y="611" width="1451" height="1"/>
<rect x="4" y="4" width="1451" height="1" fill="#000"/>
<rect x="4" y="4" width="1" height="793" fill="#000"/>
<rect x="1454" y="4" width="1" height="793" fill="#000"/>
<rect x="4" y="610" width="1451" height="1" fill="#000"/>
<rect x="4" y="612" width="1451" height="1" fill="#000"/>
<rect x="4" y="796" width="1451" height="1" fill="#000"/>
<rect x="1455" y="179" width="2" height="4" fill="#000"/>
<rect x="1455" y="343" width="2" height="4" fill="#0000cd"/>
<rect x="1455" y="426" width="2" height="4" fill="#0000cd"/>
<rect x="1455" y="55" width="2" height="1" fill="#000"/>
<rect x="1455" y="120" width="2" height="1" fill="#000"/>
<rect x="1455" y="185" width="2" height="1" fill="#000"/>
<rect x="1455" y="250" width="2" height="1" fill="#000"/>
<rect x="1455" y="315" width="2" height="1" fill="#000"/>
<rect x="1455" y="380" width="2" height="1" fill="#000"/>
<rect x="1455" y="445" width="2" height="1" fill="#000"/>
<rect x="1455" y="510" width="2" height="1" fill="#000"/>
<rect x="1455" y="575" width="2" height="1" fill="#000"/>
<rect x="1455" y="713" width="2" height="1" fill="#000"/>
<rect x="1455" y="614" width="1" height="1" fill="#000"/>
<rect x="1455" y="795" width="1" height="1" fill="#000"/>
<rect x="5" y="797" width="1" height="3" fill="#000"/>
<rect x="133" y="797" width="1" height="3" fill="#000"/>
<rect x="261" y="797" width="1" height="3" fill="#000"/>
<rect x="389" y="797" width="1" height="3" fill="#000"/>
<rect x="517" y="797" width="1" height="3" fill="#000"/>
<rect x="645" y="797" width="1" height="3" fill="#000"/>
<rect x="773" y="797" width="1" height="3" fill="#000"/>
<rect x="901" y="797" width="1" height="3" fill="#000"/>
<rect x="1029" y="797" width="1" height="3" fill="#000"/>
<rect x="1456" y="175" width="62" height="17" fill="#000"/>
<rect x="1456" y="256" width="62" height="17" fill="#000"/>
<rect x="1456" y="339" width="62" height="17" fill="#0000cd"/>
<rect x="1456" y="422" width="62" height="17" fill="#0000cd"/>
</g>
<polygon points="1155,5 1170.5,5 1162.7,13" fill="#778899"/>
<polygon points="7.8,11.8 19.2,11.8 13.5,18.2" fill="#000"/>
<text x="26" y="21" textLength="77.5" lengthAdjust="spacingAndGlyphs">XAUUSD-,H4</text>
<text x="112.9" y="21" textLength="50.6" lengthAdjust="spacingAndGlyphs">1926.45</text>
<text x="168.7" y="21" textLength="50.6" lengthAdjust="spacingAndGlyphs">1926.60</text>
<text x="224.7" y="21" textLength="50.6" lengthAdjust="spacingAndGlyphs">1924.75</text>
<text x="280.9" y="21" textLength="50.6" lengthAdjust="spacingAndGlyphs">1924.90</text>
<text x="1461.5" y="61" textLength="51" lengthAdjust="spacingAndGlyphs">1950.30</text>
<text x="1461.5" y="126" textLength="51" lengthAdjust="spacingAndGlyphs">1942.40</text>
<text x="1461.5" y="256" textLength="51" lengthAdjust="spacingAndGlyphs">1926.60</text>
<text x="1461.5" y="321" textLength="51" lengthAdjust="spacingAndGlyphs">1918.70</text>
<text x="1461.5" y="386" textLength="51" lengthAdjust="spacingAndGlyphs">1910.80</text>
<text x="1461.5" y="451" textLength="51" lengthAdjust="spacingAndGlyphs">1902.90</text>
<text x="1461.5" y="516" textLength="51" lengthAdjust="spacingAndGlyphs">1895.00</text>
<text x="1461.5" y="581" textLength="51" lengthAdjust="spacingAndGlyphs">1887.10</text>
<rect x="1456" y="256" width="62" height="17" fill="#000" shape-rendering="crispEdges"/>
<text x="1461.5" y="189" textLength="51" lengthAdjust="spacingAndGlyphs" style="fill:#fff;stroke:#fff">1935.00</text>
<text x="1461.5" y="270" textLength="51" lengthAdjust="spacingAndGlyphs" style="fill:#fff;stroke:#fff">1924.90</text>
<text x="1461.5" y="353" textLength="51" lengthAdjust="spacingAndGlyphs" style="fill:#fff;stroke:#fff">1915.00</text>
<text x="1461.5" y="436" textLength="51" lengthAdjust="spacingAndGlyphs" style="fill:#fff;stroke:#fff">1905.00</text>
<text x="1458.5" y="628" textLength="35.5" lengthAdjust="spacingAndGlyphs">9.198</text>
<text x="1458.5" y="719">0.00</text>
<text x="1458.5" y="792" textLength="40" lengthAdjust="spacingAndGlyphs">-7.589</text>
<text x="9.4" y="630" textLength="35.2" lengthAdjust="spacingAndGlyphs">MACD</text>
<text x="46.6" y="630" textLength="56.8" lengthAdjust="spacingAndGlyphs">(12,26,9)</text>
<text x="109.4" y="630" textLength="38.6" lengthAdjust="spacingAndGlyphs">-2.071</text>
<text x="153.3" y="630" textLength="34.6" lengthAdjust="spacingAndGlyphs">0.607</text>
<text x="4.5" y="814" textLength="70.6" lengthAdjust="spacingAndGlyphs">3 Aug 2023</text>
<text x="132.5" y="814" textLength="75.8" lengthAdjust="spacingAndGlyphs">7 Aug 20:00</text>
<text x="260.5" y="814" textLength="83.4" lengthAdjust="spacingAndGlyphs">10 Aug 12:00</text>
<text x="388.5" y="814" textLength="83.6" lengthAdjust="spacingAndGlyphs">15 Aug 04:00</text>
<text x="516.5" y="814" textLength="83.6" lengthAdjust="spacingAndGlyphs">17 Aug 20:00</text>
<text x="644.5" y="814" textLength="83.6" lengthAdjust="spacingAndGlyphs">22 Aug 12:00</text>
<text x="772.5" y="814" textLength="83.8" lengthAdjust="spacingAndGlyphs">25 Aug 04:00</text>
<text x="900.5" y="814" textLength="84" lengthAdjust="spacingAndGlyphs">29 Aug 20:00</text>
<text x="1028.5" y="814" textLength="74.6" lengthAdjust="spacingAndGlyphs">1 Sep 12:00</text>
</svg></body></html>
